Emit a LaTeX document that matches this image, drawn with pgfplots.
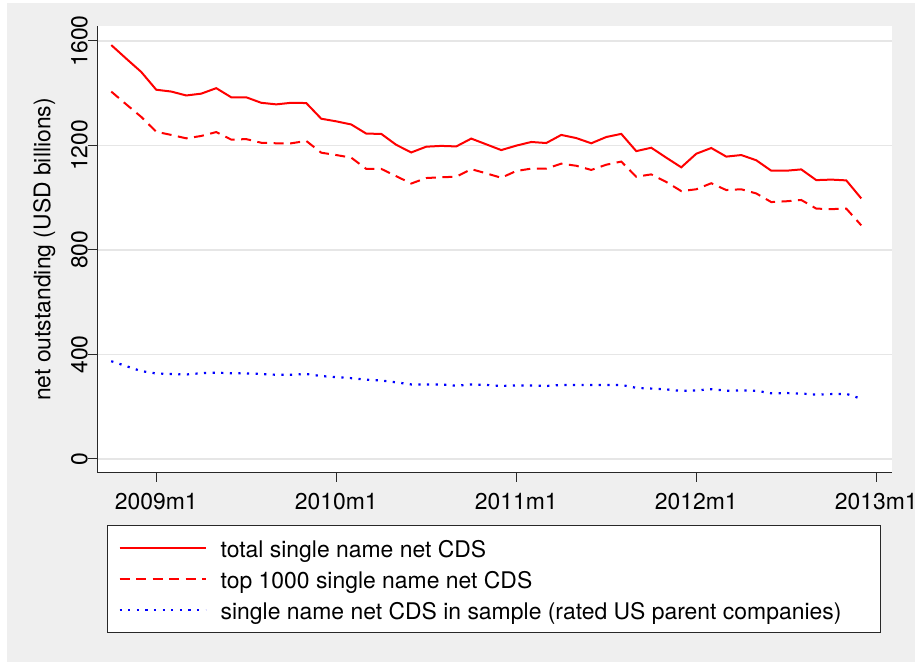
\documentclass[border=0pt]{standalone}
\usepackage{fontspec}
\setmainfont{TeX Gyre Heros}
\usepackage{pgfplots}
\usepackage{pgfplotstable}
\pgfplotsset{compat=1.18}
\definecolor{bggray}{RGB}{239,239,239}
\definecolor{gridgray}{RGB}{230,230,230}
\definecolor{axgray}{RGB}{40,40,40}
\pgfplotstableread{
x total top sample
-3 1584 1406 374
-2 1532 1357 355
-1 1481 1309 336
0 1413 1252 327
1 1406 1240 325
2 1391 1227 323
3 1398 1236 328
4 1419 1251 330
5 1384 1222 328
6 1384 1224 327
7 1363 1210 325
8 1357 1208 322
9 1363 1208 322
10 1362 1217 325
11 1302 1172 317
12 1292 1163 313
13 1280 1153 309
14 1245 1110 303
15 1244 1110 300
16 1202 1082 293
17 1173 1054 285
18 1195 1075 285
19 1198 1078 285
20 1196 1080 280
21 1226 1109 285
22 1204 1093 283
23 1182 1076 279
24 1199 1102 281
25 1213 1111 281
26 1209 1111 279
27 1240 1130 283
28 1228 1122 283
29 1208 1106 283
30 1232 1126 283
31 1244 1138 283
32 1178 1080 272
33 1191 1089 269
34 1153 1060 266
35 1116 1025 260
36 1168 1032 262
37 1190 1055 267
38 1157 1029 261
39 1163 1032 262
40 1143 1016 261
41 1103 983 251
42 1103 986 252
43 1108 991 250
44 1067 958 246
45 1069 956 248
46 1066 958 249
47 997 894 230
}\cdsdata
\begin{document}
\begin{tikzpicture}[x=1bp,y=1bp]
\useasboundingbox (0,0) rectangle (915,662);
\fill[white] (0,0) rectangle (915,662);
\fill[bggray] (7,0) rectangle (915,659);
\begin{axis}[
  at={(97bp,189bp)}, anchor=south west,
  scale only axis, width=795bp, height=447bp,
  xmin=-3.95, xmax=49.05, ymin=-54, ymax=1657,
  axis background/.style={fill=white},
  axis x line*=bottom, axis y line*=left,
  axis line style={axgray, line width=1bp},
  xtick={0,12,24,36,48},
  xticklabels={2009m1,2010m1,2011m1,2012m1,2013m1},
  ytick={0,400,800,1200,1600},
  yticklabels={0,400,800,1200,1600},
  tick align=outside, major tick length=9bp,
  tick style={axgray, line width=1bp},
  ymajorgrids, grid style={gridgray, line width=1.5bp},
  font=\fontsize{23}{27}\selectfont,
  xticklabel style={inner sep=0pt, anchor=north, yshift=-11bp},
  yticklabel style={inner sep=0pt, xshift=0bp, rotate=90, anchor=south},
  ylabel={net outstanding (USD billions)},
  ylabel style={at={(axis description cs:-0.0522,0.5)}, anchor=south, inner sep=0pt, rotate=0},
  legend style={at={(axis description cs:0.01258,-0.1163)}, anchor=north west,
    fill=white, draw=axgray, line width=1bp,
    inner xsep=11bp, inner ysep=10bp, row sep=6.5bp, column sep=14bp,
    nodes={inner sep=0pt, text height=22bp, text depth=2.7bp},
    font=\fontsize{23}{27}\selectfont},
  legend cell align=left,
  legend image code/.code={\draw[#1] (0bp,0bp) -- (86bp,0bp);},
]
\addplot[red, line width=2bp] table[x=x, y=total] {\cdsdata};
\addlegendentry{total single name net CDS}
\addplot[red, line width=2bp, dash pattern=on 10bp off 6.5bp] table[x=x, y=top] {\cdsdata};
\addlegendentry{top 1000 single name net CDS}
\addplot[blue, line width=2.2bp, dash pattern=on 2.2bp off 6.4bp] table[x=x, y=sample] {\cdsdata};
\addlegendentry{single name net CDS in sample (rated US parent companies)\hspace*{28bp}}
\end{axis}
\end{tikzpicture}
\end{document}
